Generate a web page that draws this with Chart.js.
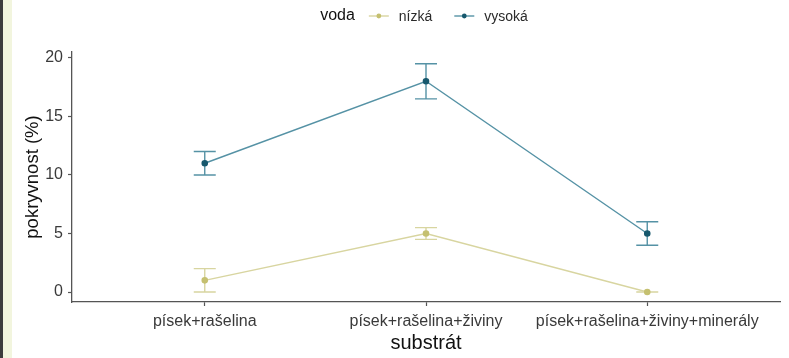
<!DOCTYPE html>
<html>
<head>
<meta charset="utf-8">
<script src="https://cdn.jsdelivr.net/npm/chart.js@4/dist/chart.umd.min.js"></script>
<style>
  html, body { margin: 0; padding: 0; background: #ffffff; }
  body { width: 789px; height: 358px; position: relative; overflow: hidden; }
  #edge { position: absolute; left: 0; top: 0; width: 3px; height: 358px; background: #3c3c3c; }
  #strip { position: absolute; left: 3px; top: 0; width: 9px; height: 358px; background: #f2f5de; }
  #wrap { position: absolute; left: 12px; top: 0; width: 777px; height: 358px; }
</style>
</head>
<body>
<div id="edge"></div>
<div id="strip"></div>
<div id="wrap"><canvas id="chart" width="777" height="358"></canvas></div>
<script>
// Substrate treatments (x axis)
const categories = ['písek+rašelina', 'písek+rašelina+živiny', 'písek+rašelina+živiny+minerály'];

// Mean cover (%) and its error half-width per water level
const nizka = [1, 5, 0];
const nizkaErr = [1, 0.5, 0];
const vysoka = [11, 18, 5];
const vysokaErr = [1, 1.5, 1];

const yTicks = [0, 5, 10, 15, 20];
const seriesNames = ['nízká', 'vysoká'];
const legendTitle = 'voda';

const FONT = 'Liberation Sans, Arial, sans-serif';
const LOW_LINE = '#d8d5a0';
const LOW_POINT = '#c5c070';
const HIGH_LINE = '#5592a5';
const HIGH_POINT = '#17586d';

const toPoints = vals => vals.map((v, i) => ({ x: i + 1, y: v }));

// Error bars with caps, drawn underneath the lines and points
const errorBars = {
  id: 'errorBars',
  beforeDatasetsDraw(chart) {
    const { ctx, scales: { x, y } } = chart;
    const cap = 11;
    chart.data.datasets.forEach(ds => {
      ctx.save();
      ctx.strokeStyle = ds.borderColor;
      ctx.lineWidth = 1.4;
      ds.data.forEach((p, i) => {
        const e = ds.errors[i];
        const px = x.getPixelForValue(p.x);
        const top = y.getPixelForValue(p.y + e);
        const bot = y.getPixelForValue(p.y - e);
        ctx.beginPath();
        ctx.moveTo(px, top); ctx.lineTo(px, bot);
        ctx.moveTo(px - cap, top); ctx.lineTo(px + cap, top);
        ctx.moveTo(px - cap, bot); ctx.lineTo(px + cap, bot);
        ctx.stroke();
      });
      ctx.restore();
    });
  }
};

// Legend row on top: title followed by a line+point key for each series
const topLegend = {
  id: 'topLegend',
  afterDraw(chart) {
    const { ctx, chartArea } = chart;
    const yc = 16;
    ctx.save();
    ctx.textBaseline = 'middle';
    ctx.font = '16px ' + FONT;
    const titleW = ctx.measureText(legendTitle).width;
    ctx.font = '14px ' + FONT;
    const labelW = seriesNames.map(n => ctx.measureText(n).width);
    const keyW = 20, gapTitle = 14, gapKey = 10, gapItem = 22;
    const total = titleW + gapTitle + keyW + gapKey + labelW[0] + gapItem + keyW + gapKey + labelW[1];
    let xPos = (chartArea.left + chartArea.right) / 2 - total / 2 - 2;
    ctx.fillStyle = '#111';
    ctx.font = '16px ' + FONT;
    ctx.textAlign = 'left';
    ctx.fillText(legendTitle, xPos, yc);
    xPos += titleW + gapTitle;
    chart.data.datasets.forEach((ds, i) => {
      ctx.strokeStyle = ds.borderColor;
      ctx.lineWidth = 1.4;
      ctx.beginPath();
      ctx.moveTo(xPos, yc); ctx.lineTo(xPos + keyW, yc);
      ctx.stroke();
      ctx.fillStyle = ds.pointBackgroundColor;
      ctx.beginPath();
      ctx.arc(xPos + keyW / 2, yc, 2.4, 0, Math.PI * 2);
      ctx.fill();
      xPos += keyW + gapKey;
      ctx.fillStyle = '#2a2a2a';
      ctx.font = '14px ' + FONT;
      ctx.fillText(seriesNames[i], xPos, yc + 1);
      xPos += labelW[i] + gapItem;
    });
    ctx.restore();
  }
};

new Chart(document.getElementById('chart'), {
  type: 'line',
  data: {
    datasets: [
      {
        label: seriesNames[0],
        data: toPoints(nizka),
        errors: nizkaErr,
        borderColor: LOW_LINE,
        pointBackgroundColor: LOW_POINT,
        pointBorderColor: LOW_POINT,
        borderWidth: 1.4,
        pointRadius: 2.6,
        tension: 0
      },
      {
        label: seriesNames[1],
        data: toPoints(vysoka),
        errors: vysokaErr,
        borderColor: HIGH_LINE,
        pointBackgroundColor: HIGH_POINT,
        pointBorderColor: HIGH_POINT,
        borderWidth: 1.4,
        pointRadius: 2.6,
        tension: 0
      }
    ]
  },
  options: {
    responsive: false,
    animation: false,
    layout: { padding: { top: 52, right: 9, bottom: 0, left: 0 } },
    plugins: {
      legend: { display: false },
      tooltip: { enabled: false }
    },
    scales: {
      x: {
        type: 'linear',
        min: 0.4,
        max: 3.6,
        afterBuildTicks: s => { s.ticks = categories.map((c, i) => ({ value: i + 1 })); },
        afterFit: s => { s.height = 56; },
        grid: { display: true, drawOnChartArea: false, drawTicks: true, tickLength: 4, color: '#555', tickWidth: 1.2 },
        border: { display: true, color: '#555', width: 1.3 },
        ticks: {
          autoSkip: false,
          maxRotation: 0,
          padding: 6,
          color: '#3a3a3a',
          font: { size: 16, family: FONT },
          callback: v => categories[v - 1]
        },
        title: {
          display: true,
          text: 'substrát',
          color: '#111',
          font: { size: 20, family: FONT },
          padding: { top: 0, bottom: 3 }
        }
      },
      y: {
        min: -0.85,
        max: 20.5,
        afterBuildTicks: s => { s.ticks = yTicks.map(v => ({ value: v })); },
        afterFit: s => { s.width = 60; },
        grid: { display: true, drawOnChartArea: false, drawTicks: true, tickLength: 4, color: '#555', tickWidth: 1.2 },
        border: { display: true, color: '#555', width: 1.3 },
        ticks: {
          padding: 5,
          color: '#3a3a3a',
          font: { size: 16, family: FONT }
        },
        title: {
          display: true,
          text: 'pokryvnost (%)',
          color: '#111',
          font: { size: 18.5, family: FONT },
          padding: { top: 10, bottom: 0 }
        }
      }
    }
  },
  plugins: [errorBars, topLegend]
});
</script>
</body>
</html>
